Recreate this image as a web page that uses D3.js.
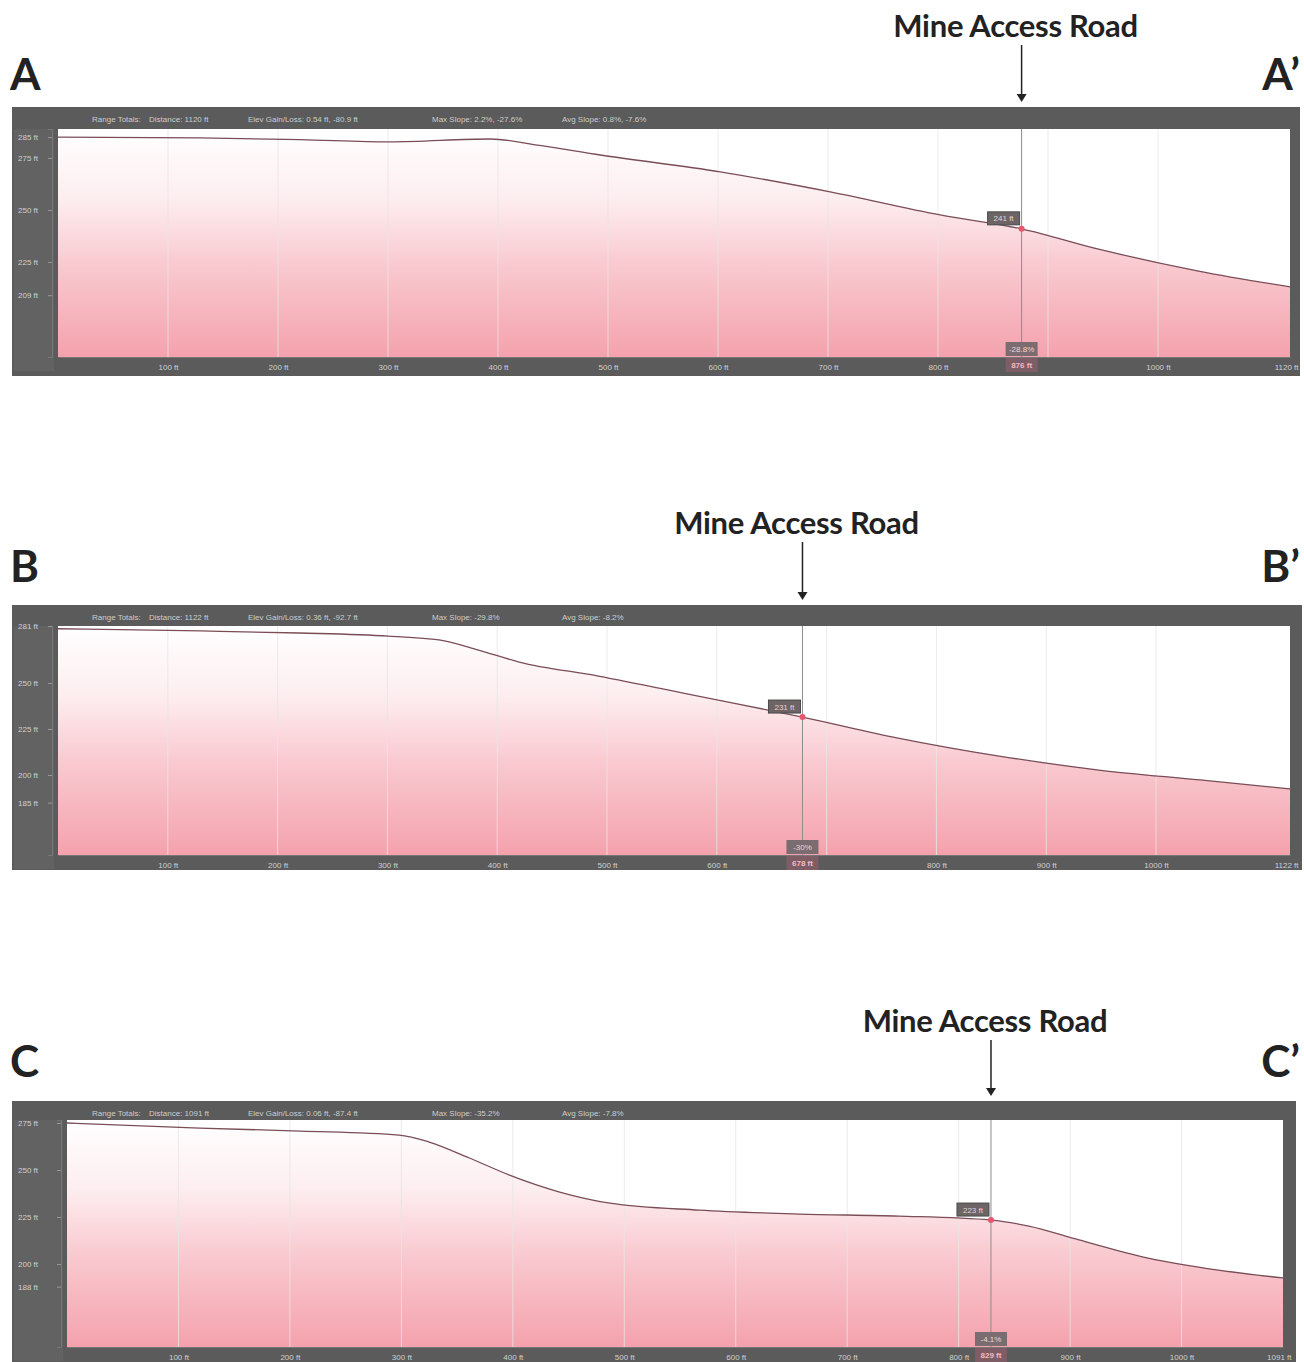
<!DOCTYPE html>
<html>
<head>
<meta charset="utf-8">
<script src="https://d3js.org/d3.v7.min.js"></script>
<style>
  body { margin: 0; background: #ffffff; }
  svg { display: block; }
</style>
</head>
<body>
<script>
// canvas size
var canvasX = 1304;
var canvasY = 1362;

// profile A - A' (distance in ft, elevation in ft)
var distA = [0, 129, 220, 302, 393, 438, 493, 602, 702, 802, 876, 947, 1038, 1120];
var elevA = [285, 284.6, 283.8, 282.7, 284.1, 281, 276.4, 268.3, 258.7, 247.6, 240.9, 231, 220.5, 213];
var yTicksA = [285, 275, 250, 225, 209];
var xTicksA = [100, 200, 300, 400, 500, 600, 700, 800, 900, 1000, 1120];

// profile B - B'
var distB = [0, 130, 220, 301, 347, 383, 420, 492, 583, 678, 765, 857, 948, 1040, 1122];
var elevB = [279.5, 278.3, 277.2, 275.5, 273.4, 267.9, 261.4, 253.8, 242.9, 231.5, 220.1, 210.3, 202.7, 197.3, 192.4];
var yTicksB = [281, 250, 225, 200, 185];
var xTicksB = [100, 200, 300, 400, 500, 600, 700, 800, 900, 1000, 1122];

// profile C - C'
var distC = [0, 119, 209, 298, 325, 361, 397, 442, 487, 567, 657, 746, 829, 863, 908, 970, 1033, 1091];
var elevC = [275, 272.3, 270.7, 268.6, 264.9, 256.4, 247.3, 238.3, 232.4, 228.7, 226.6, 225.5, 223.4, 220.2, 212.8, 203.2, 196.8, 192.6];
var yTicksC = [275, 250, 225, 200, 188];
var xTicksC = [100, 200, 300, 400, 500, 600, 700, 800, 900, 1000, 1091];

// header texts
var headerA = ["Range Totals:", "Distance: 1120 ft", "Elev Gain/Loss: 0.54 ft, -80.9 ft", "Max Slope: 2.2%, -27.6%", "Avg Slope: 0.8%, -7.6%"];
var headerB = ["Range Totals:", "Distance: 1122 ft", "Elev Gain/Loss: 0.36 ft, -92.7 ft", "Max Slope: -29.8%", "Avg Slope: -8.2%"];
var headerC = ["Range Totals:", "Distance: 1091 ft", "Elev Gain/Loss: 0.06 ft, -87.4 ft", "Max Slope: -35.2%", "Avg Slope: -7.8%"];

// marker (mine access road) per profile: distance, elevation label, slope label
var markerA = {dist: 876, elev: "241 ft", slope: "-28.8%"};
var markerB = {dist: 678, elev: "231 ft", slope: "-30%"};
var markerC = {dist: 829, elev: "223 ft", slope: "-4.1%"};

var svg;

window.onload = function() {

    // make svg
    svg = d3.select("body")
            .append("svg")
            .attr("width", canvasX)
            .attr("height", canvasY);

    // gradients used for the fill under the profile
    var defs = svg.append("defs");

    // draw the three profiles
    drawProfile({
        id: "A", dist: distA, elev: elevA, yTicks: yTicksA, xTicks: xTicksA,
        header: headerA, marker: markerA,
        frame: [12, 107, 1300, 376], plot: [58, 129, 1290, 357],
        yDomain: [179.3, 288.9], xMax: 1120,
        titleY: 27, letterY: 90
    }, defs);

    drawProfile({
        id: "B", dist: distB, elev: elevB, yTicks: yTicksB, xTicks: xTicksB,
        header: headerB, marker: markerB,
        frame: [12, 605, 1302, 870], plot: [58, 626, 1290, 855],
        yDomain: [156.5, 281], xMax: 1122,
        titleY: 524, letterY: 582
    }, defs);

    drawProfile({
        id: "C", dist: distC, elev: elevC, yTicks: yTicksC, xTicks: xTicksC,
        header: headerC, marker: markerC,
        frame: [12, 1101, 1296, 1370], plot: [67, 1120, 1283, 1347],
        yDomain: [155.9, 276.6], xMax: 1091,
        titleY: 1022, letterY: 1077
    }, defs);
};

// function to draw one elevation profile with its labels
function drawProfile(p, defs) {

    var f = p.frame;
    var pl = p.plot;

    // scales
    var x = d3.scaleLinear().domain([0, p.xMax]).range([pl[0], pl[2]]);
    var y = d3.scaleLinear().domain(p.yDomain).range([pl[3], pl[1]]);

    // gradient for this panel
    var grad = defs.append("linearGradient")
                   .attr("id", "grad" + p.id)
                   .attr("gradientUnits", "userSpaceOnUse")
                   .attr("x1", 0).attr("x2", 0)
                   .attr("y1", pl[1]).attr("y2", pl[3]);
    grad.append("stop").attr("offset", "0%").attr("stop-color", "#ffffff");
    grad.append("stop").attr("offset", "30%").attr("stop-color", "#fdeef0");
    grad.append("stop").attr("offset", "60%").attr("stop-color", "#f9c9cf");
    grad.append("stop").attr("offset", "100%").attr("stop-color", "#f4a2ad");

    var g = svg.append("g");

    // dark frame
    g.append("rect")
     .attr("x", f[0]).attr("y", f[1])
     .attr("width", f[2] - f[0]).attr("height", f[3] - f[1])
     .attr("fill", "#5b5b5b");

    // lighter inner border on the left band
    g.append("rect")
     .attr("x", f[0] + 2).attr("y", pl[1])
     .attr("width", pl[0] - f[0] - 6).attr("height", pl[3] - pl[1] + 14)
     .attr("fill", "#626262");

    // white plot area
    g.append("rect")
     .attr("x", pl[0]).attr("y", pl[1])
     .attr("width", pl[2] - pl[0]).attr("height", pl[3] - pl[1])
     .attr("fill", "#ffffff");

    // area under the profile
    var points = p.dist.map(function(d, i) { return [d, p.elev[i]]; });

    var area = d3.area()
                 .x(function(d) { return x(d[0]); })
                 .y0(pl[3])
                 .y1(function(d) { return y(d[1]); })
                 .curve(d3.curveMonotoneX);

    g.append("path")
     .datum(points)
     .attr("d", area)
     .attr("fill", "url(#grad" + p.id + ")");

    // vertical gridlines
    g.selectAll(".grid")
     .data(p.xTicks.slice(0, -1))
     .enter().append("line")
     .attr("x1", function(d) { return x(d); })
     .attr("x2", function(d) { return x(d); })
     .attr("y1", pl[1]).attr("y2", pl[3])
     .attr("stroke", "#e6e6e6")
     .attr("stroke-opacity", 0.8)
     .attr("stroke-width", 1);

    // profile line
    var line = d3.line()
                 .x(function(d) { return x(d[0]); })
                 .y(function(d) { return y(d[1]); })
                 .curve(d3.curveMonotoneX);

    g.append("path")
     .datum(points)
     .attr("d", line)
     .attr("fill", "none")
     .attr("stroke", "#7a4d57")
     .attr("stroke-width", 1.3);

    // y axis labels in the left band
    var yAxis = d3.axisLeft(y)
                  .tickValues(p.yTicks)
                  .tickSize(4)
                  .tickFormat(function(d) { return d + " ft"; });

    var ya = g.append("g")
              .attr("transform", "translate(" + (pl[0] - 6) + ",0)")
              .call(yAxis);
    ya.select(".domain").attr("stroke", "#777");
    ya.selectAll("line").attr("stroke", "#999");
    ya.selectAll("text")
      .attr("x", -(pl[0] - f[0] - 12))
      .attr("text-anchor", "start")
      .attr("fill", "#cfcfcf")
      .style("font-family", "Arial, 'Liberation Sans', sans-serif")
      .style("font-size", "8px");

    // x axis labels in the bottom band, hide labels under the marker
    var mx = x(p.marker.dist);
    var xAxis = d3.axisBottom(x)
                  .tickValues(p.xTicks)
                  .tickSize(0)
                  .tickFormat(function(d) { return d + " ft"; });

    var xa = g.append("g")
              .attr("transform", "translate(0," + pl[3] + ")")
              .call(xAxis);
    xa.select(".domain").attr("stroke", "#777");
    xa.selectAll("text")
      .attr("y", 7)
      .attr("fill", "#cfcfcf")
      .style("font-family", "Arial, 'Liberation Sans', sans-serif")
      .style("font-size", "8px")
      .attr("text-anchor", function(d, i) { return i == p.xTicks.length - 1 ? "end" : "middle"; })
      .attr("dx", function(d, i) { return i == p.xTicks.length - 1 ? 8 : 0; })
      .style("display", function(d) { return Math.abs(x(d) - mx) < 30 ? "none" : null; });

    // header texts
    var hx = [f[0] + 80, f[0] + 137, f[0] + 236, f[0] + 420, f[0] + 550];
    g.selectAll(".header")
     .data(p.header)
     .enter().append("text")
     .attr("x", function(d, i) { return hx[i]; })
     .attr("y", f[1] + 15)
     .text(function(d) { return d; })
     .attr("fill", "#cccccc")
     .style("font-family", "Arial, 'Liberation Sans', sans-serif")
     .style("font-size", "8px");

    // marker: vertical line, point and labels
    var my = y(elevAt(p.dist, p.elev, p.marker.dist));

    g.append("line")
     .attr("x1", mx).attr("x2", mx)
     .attr("y1", pl[1]).attr("y2", pl[3])
     .attr("stroke", "#8c8c8c")
     .attr("stroke-width", 1);

    g.append("rect")
     .attr("x", mx - 34).attr("y", my - 17)
     .attr("width", 32).attr("height", 13)
     .attr("fill", "#6d6466")
     .attr("stroke", "#4a4a4a");
    g.append("text")
     .attr("x", mx - 18).attr("y", my - 7.5)
     .attr("text-anchor", "middle")
     .attr("fill", "#e8d0d4")
     .style("font-family", "Arial, 'Liberation Sans', sans-serif")
     .style("font-size", "8px")
     .text(p.marker.elev);

    g.append("circle")
     .attr("cx", mx).attr("cy", my)
     .attr("r", 3)
     .attr("fill", "#e8566d");

    // slope and distance boxes at the bottom
    g.append("rect")
     .attr("x", mx - 16).attr("y", pl[3] - 15)
     .attr("width", 32).attr("height", 14)
     .attr("fill", "#7a6c70");
    g.append("text")
     .attr("x", mx).attr("y", pl[3] - 5)
     .attr("text-anchor", "middle")
     .attr("fill", "#efd4d8")
     .style("font-family", "Arial, 'Liberation Sans', sans-serif")
     .style("font-size", "8px")
     .text(p.marker.slope);

    g.append("rect")
     .attr("x", mx - 16).attr("y", pl[3] + 1)
     .attr("width", 32).attr("height", 14)
     .attr("fill", "#7e5d66");
    g.append("text")
     .attr("x", mx).attr("y", pl[3] + 11)
     .attr("text-anchor", "middle")
     .attr("fill", "#f6b8c2")
     .style("font-family", "Arial, 'Liberation Sans', sans-serif")
     .style("font-size", "8px")
     .style("font-weight", "bold")
     .text(p.marker.dist + " ft");

    // big section letters
    g.append("text")
     .attr("x", 10).attr("y", p.letterY)
     .text(p.id)
     .style("font-family", "Lato, 'Open Sans', sans-serif")
     .style("font-weight", "bold")
     .style("font-size", "44px")
     .attr("fill", "#222");

    g.append("text")
     .attr("x", 1300).attr("y", p.letterY)
     .attr("text-anchor", "end")
     .text(p.id + "\u2019")
     .style("font-family", "Lato, 'Open Sans', sans-serif")
     .style("font-weight", "bold")
     .style("font-size", "44px")
     .attr("fill", "#222");

    // mine access road label with arrow
    g.append("text")
     .attr("x", mx - 6).attr("y", p.titleY + 10)
     .attr("text-anchor", "middle")
     .text("Mine Access Road")
     .style("font-family", "Lato, 'Open Sans', sans-serif")
     .style("font-weight", "bold")
     .style("font-size", "31px")
     .style("letter-spacing", "-0.3px")
     .attr("fill", "#222");

    g.append("line")
     .attr("x1", mx).attr("x2", mx)
     .attr("y1", p.titleY + 18).attr("y2", f[1] - 10)
     .attr("stroke", "#222")
     .attr("stroke-width", 1.5);

    g.append("path")
     .attr("d", "M" + (mx - 5) + "," + (f[1] - 13) + " L" + mx + "," + (f[1] - 5) + " L" + (mx + 5) + "," + (f[1] - 13) + " Z")
     .attr("fill", "#222");
};

// elevation at a given distance (piecewise linear)
function elevAt(dist, elev, d) {
    for (var i = 1; i < dist.length; i++) {
        if (d <= dist[i]) {
            var t = (d - dist[i - 1]) / (dist[i] - dist[i - 1]);
            return elev[i - 1] + t * (elev[i] - elev[i - 1]);
        }
    }
    return elev[elev.length - 1];
};
</script>
</body>
</html>
